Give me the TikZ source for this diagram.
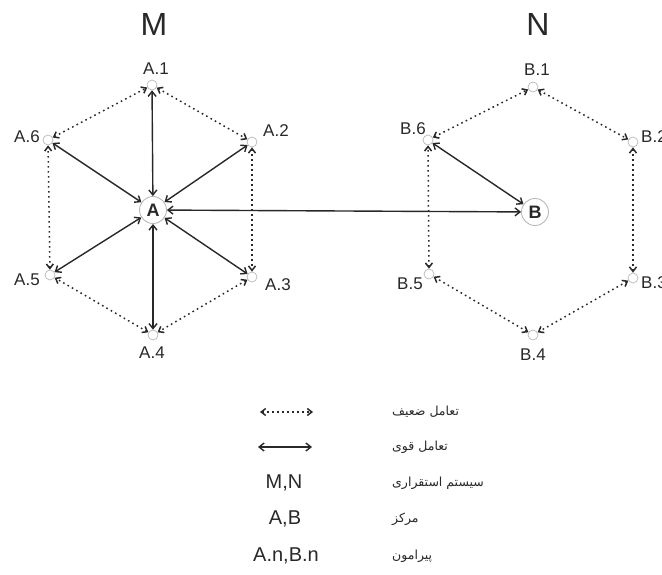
\documentclass[tikz,border=0pt]{standalone}
\usepackage{fontspec}
\setmainfont{Liberation Sans}
\newfontfamily\persianfont[Script=Arabic]{DejaVu Sans}
\TeXXeTstate=1
\usepackage{xcolor}
\definecolor{inkgray}{RGB}{40,40,40}
\definecolor{ringgray}{RGB}{185,185,185}
\usepackage{tikz}
\usetikzlibrary{arrows.meta}

\begin{document}
\begin{tikzpicture}[x=1pt, y=-1pt,
  vtx/.style={circle, draw=ringgray, line width=0.7pt, minimum size=10pt, inner sep=0pt},
  ctr/.style={circle, draw=ringgray, line width=0.9pt, minimum size=27pt, inner sep=0pt,
              text=inkgray, font=\fontsize{18}{20}\selectfont\bfseries},
  lbl/.style={inner sep=0pt, text=inkgray, font=\fontsize{17}{19}\selectfont},
  ttl/.style={inner sep=0pt, text=inkgray, font=\fontsize{32}{34}\selectfont},
  key/.style={inner sep=0pt, text=inkgray, font=\fontsize{20}{22}\selectfont},
  fa/.style={inner sep=0pt, anchor=west, text=inkgray, font=\persianfont\fontsize{12.5}{14}\selectfont},
  strong/.style={{Straight Barb[length=5pt,width=8pt]}-{Straight Barb[length=5pt,width=8pt]},
                 line width=1.4pt, inkgray},
  weak/.style={{Straight Barb[length=4.5pt,width=7pt]}-{Straight Barb[length=4.5pt,width=7pt]},
               line width=1.5pt, inkgray, dash pattern=on 1.6pt off 3.4pt}
]
\useasboundingbox (0,0) rectangle (662,575);

% system M
\node[ttl] (M) at (154,24) {M};
\node[ctr] (A) at (153,210) {A};
\node[vtx] (A1) at (152,85) {};
\node[vtx] (A2) at (252,142) {};
\node[vtx] (A3) at (252,277) {};
\node[vtx] (A4) at (153,335) {};
\node[vtx] (A5) at (50,275) {};
\node[vtx] (A6) at (48,140) {};
\node[lbl] (A1t) at (156,69) {A.1};
\node[lbl] (A2t) at (276,131) {A.2};
\node[lbl] (A3t) at (278,285) {A.3};
\node[lbl] (A4t) at (152,353) {A.4};
\node[lbl] (A5t) at (27,280) {A.5};
\node[lbl] (A6t) at (27,137) {A.6};

% system N
\node[ttl] (N) at (538,24) {N};
\node[ctr] (B) at (535,212) {B};
\node[vtx] (B1) at (533,87) {};
\node[vtx] (B2) at (633,142) {};
\node[vtx] (B3) at (633,278) {};
\node[vtx] (B4) at (533,335) {};
\node[vtx] (B5) at (429,274) {};
\node[vtx] (B6) at (428,140) {};
\node[lbl] (B1t) at (537,70) {B.1};
\node[lbl, anchor=west] (B2t) at (641,137) {B.2};
\node[lbl, anchor=west] (B3t) at (641,283) {B.3};
\node[lbl] (B4t) at (533,355) {B.4};
\node[lbl] (B5t) at (410,284) {B.5};
\node[lbl] (B6t) at (413,129) {B.6};

% strong links
\draw[strong] (A)--(A1); \draw[strong] (A)--(A2);
\draw[strong] (A)--(A3); \draw[strong] (A)--(A4);
\draw[strong] (A)--(A5); \draw[strong] (A)--(A6);
\draw[strong] (A)--(B); \draw[strong] (B)--(B6);

% weak links
\draw[weak] (A1)--(A2); \draw[weak] (A2)--(A3);
\draw[weak] (A3)--(A4); \draw[weak] (A4)--(A5);
\draw[weak] (A5)--(A6); \draw[weak] (A6)--(A1);
\draw[weak] (B1)--(B2); \draw[weak] (B2)--(B3);
\draw[weak] (B3)--(B4); \draw[weak] (B4)--(B5);
\draw[weak] (B5)--(B6); \draw[weak] (B6)--(B1);

% legend
\coordinate (w1) at (260,412); \coordinate (w2) at (313,412);
\coordinate (s1) at (258,447); \coordinate (s2) at (312,447);
\draw[weak] (w1)--(w2);
\draw[strong] (s1)--(s2);
\node[key] (k3) at (284,483) {M,N};
\node[key] (k4) at (285,519) {A,B};
\node[key] (k5) at (286,556) {A.n,B.n};
\node[fa] (f1) at (392,412) {\beginR تعامل ضعیف\endR};
\node[fa] (f2) at (392,447) {\beginR تعامل قوی\endR};
\node[fa] (f3) at (392,483) {\beginR سیستم استقراری\endR};
\node[fa] (f4) at (392,519) {\beginR مرکز\endR};
\node[fa] (f5) at (392,556) {\beginR پیرامون\endR};
\end{tikzpicture}
\end{document}
